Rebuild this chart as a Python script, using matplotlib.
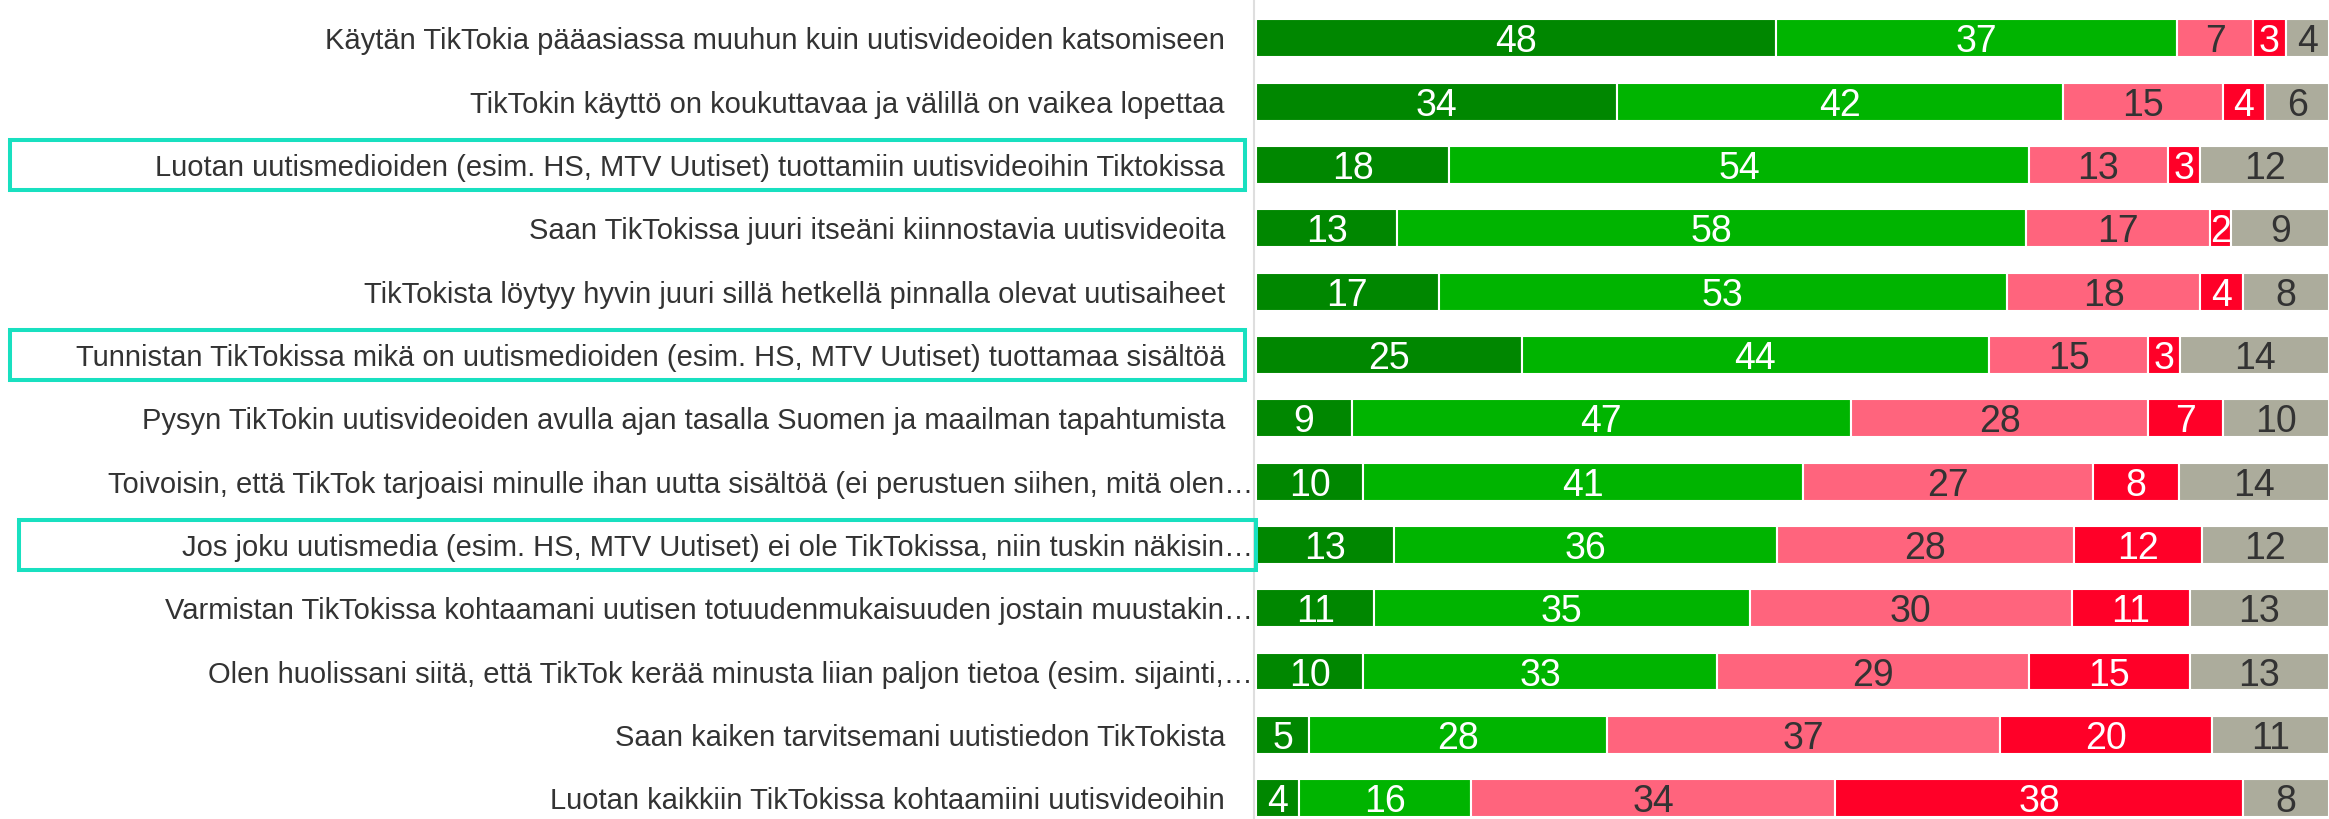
import numpy as np
import matplotlib
matplotlib.use("Agg")
import matplotlib.pyplot as plt
from matplotlib.patches import Rectangle
from matplotlib import transforms

plt.rcParams['font.family'] = ['Liberation Sans', 'DejaVu Sans']

# väittämät (ylhäältä alas)
statements = [
    "Käytän TikTokia pääasiassa muuhun kuin uutisvideoiden katsomiseen",
    "TikTokin käyttö on koukuttavaa ja välillä on vaikea lopettaa",
    "Luotan uutismedioiden (esim. HS, MTV Uutiset) tuottamiin uutisvideoihin Tiktokissa",
    "Saan TikTokissa juuri itseäni kiinnostavia uutisvideoita",
    "TikTokista löytyy hyvin juuri sillä hetkellä pinnalla olevat uutisaiheet",
    "Tunnistan TikTokissa mikä on uutismedioiden (esim. HS, MTV Uutiset) tuottamaa sisältöä",
    "Pysyn TikTokin uutisvideoiden avulla ajan tasalla Suomen ja maailman tapahtumista",
    "Toivoisin, että TikTok tarjoaisi minulle ihan uutta sisältöä (ei perustuen siihen, mitä olen…",
    "Jos joku uutismedia (esim. HS, MTV Uutiset) ei ole TikTokissa, niin tuskin näkisin…",
    "Varmistan TikTokissa kohtaamani uutisen totuudenmukaisuuden jostain muustakin…",
    "Olen huolissani siitä, että TikTok kerää minusta liian paljon tietoa (esim. sijainti,…",
    "Saan kaiken tarvitsemani uutistiedon TikTokista",
    "Luotan kaikkiin TikTokissa kohtaamiini uutisvideoihin",
]

# vastausjakaumat (%)
fully_agree    = [48, 34, 18, 13, 17, 25,  9, 10, 13, 11, 10,  5,  4]
somewhat_agree = [37, 42, 54, 58, 53, 44, 47, 41, 36, 35, 33, 28, 16]
somewhat_dis   = [ 7, 15, 13, 17, 18, 15, 28, 27, 28, 30, 29, 37, 34]
fully_dis      = [ 3,  4,  3,  2,  4,  3,  7,  8, 12, 11, 15, 20, 38]
dont_know      = [ 4,  6, 12,  9,  8, 14, 10, 14, 12, 13, 13, 11,  8]

highlighted = [2, 5, 8]

series = [fully_agree, somewhat_agree, somewhat_dis, fully_dis, dont_know]
colors = ["#008700", "#00b400", "#ff647d", "#ff0028", "#acac9c"]
text_colors = ["white", "white", "#333333", "white", "#333333"]

W, H = 2329, 819
fig = plt.figure(figsize=(W / 100, H / 100), dpi=100)
ax_left = 1254 / W
ax = fig.add_axes([ax_left, 0, 1 - ax_left, 1])

data = np.array(series, dtype=float)
totals = data.sum(axis=0)
shares = data / totals * 100  # jokainen palkki täyteen leveyteen

y = np.arange(len(statements))
left = np.zeros(len(statements))
for k in range(len(series)):
    ax.barh(y, shares[k], left=left, height=0.6, color=colors[k],
            edgecolor="white", linewidth=1.5)
    for i in range(len(statements)):
        ax.text(left[i] + shares[k][i] / 2, y[i], str(series[k][i]),
                ha="center", va="center_baseline", fontsize=27,
                color=text_colors[k])
    left += shares[k]

ax.set_xlim(-0.2, 100)
ax.set_ylim(12.33, -0.608)
ax.set_xticks([])
ax.set_yticks([])
for s in ["top", "right", "bottom"]:
    ax.spines[s].set_visible(False)
ax.spines["left"].set_color("#dedede")
ax.spines["left"].set_linewidth(1.5)

# väittämätekstit
trans = transforms.blended_transform_factory(ax.transAxes, ax.transData)
for i, s in enumerate(statements):
    off = -1 if s.endswith("…") else -29
    ax.annotate(s, xy=(0, i), xycoords=trans, xytext=(off, 0),
                textcoords="offset pixels", ha="right", va="center_baseline",
                fontsize=21, color="#333333", annotation_clip=False)

# korostuskehykset
box_x = {2: (10, 1245), 5: (10, 1245), 8: (19, 1256)}
btrans = transforms.blended_transform_factory(fig.transFigure, ax.transData)
for i in highlighted:
    x0, x1 = box_x[i]
    fig.add_artist(Rectangle((x0 / W, i - 0.4), (x1 - x0) / W, 0.8,
                             transform=btrans, fill=False,
                             edgecolor="#19e0c0", linewidth=2.9))

fig.savefig("out.png", dpi=100)
